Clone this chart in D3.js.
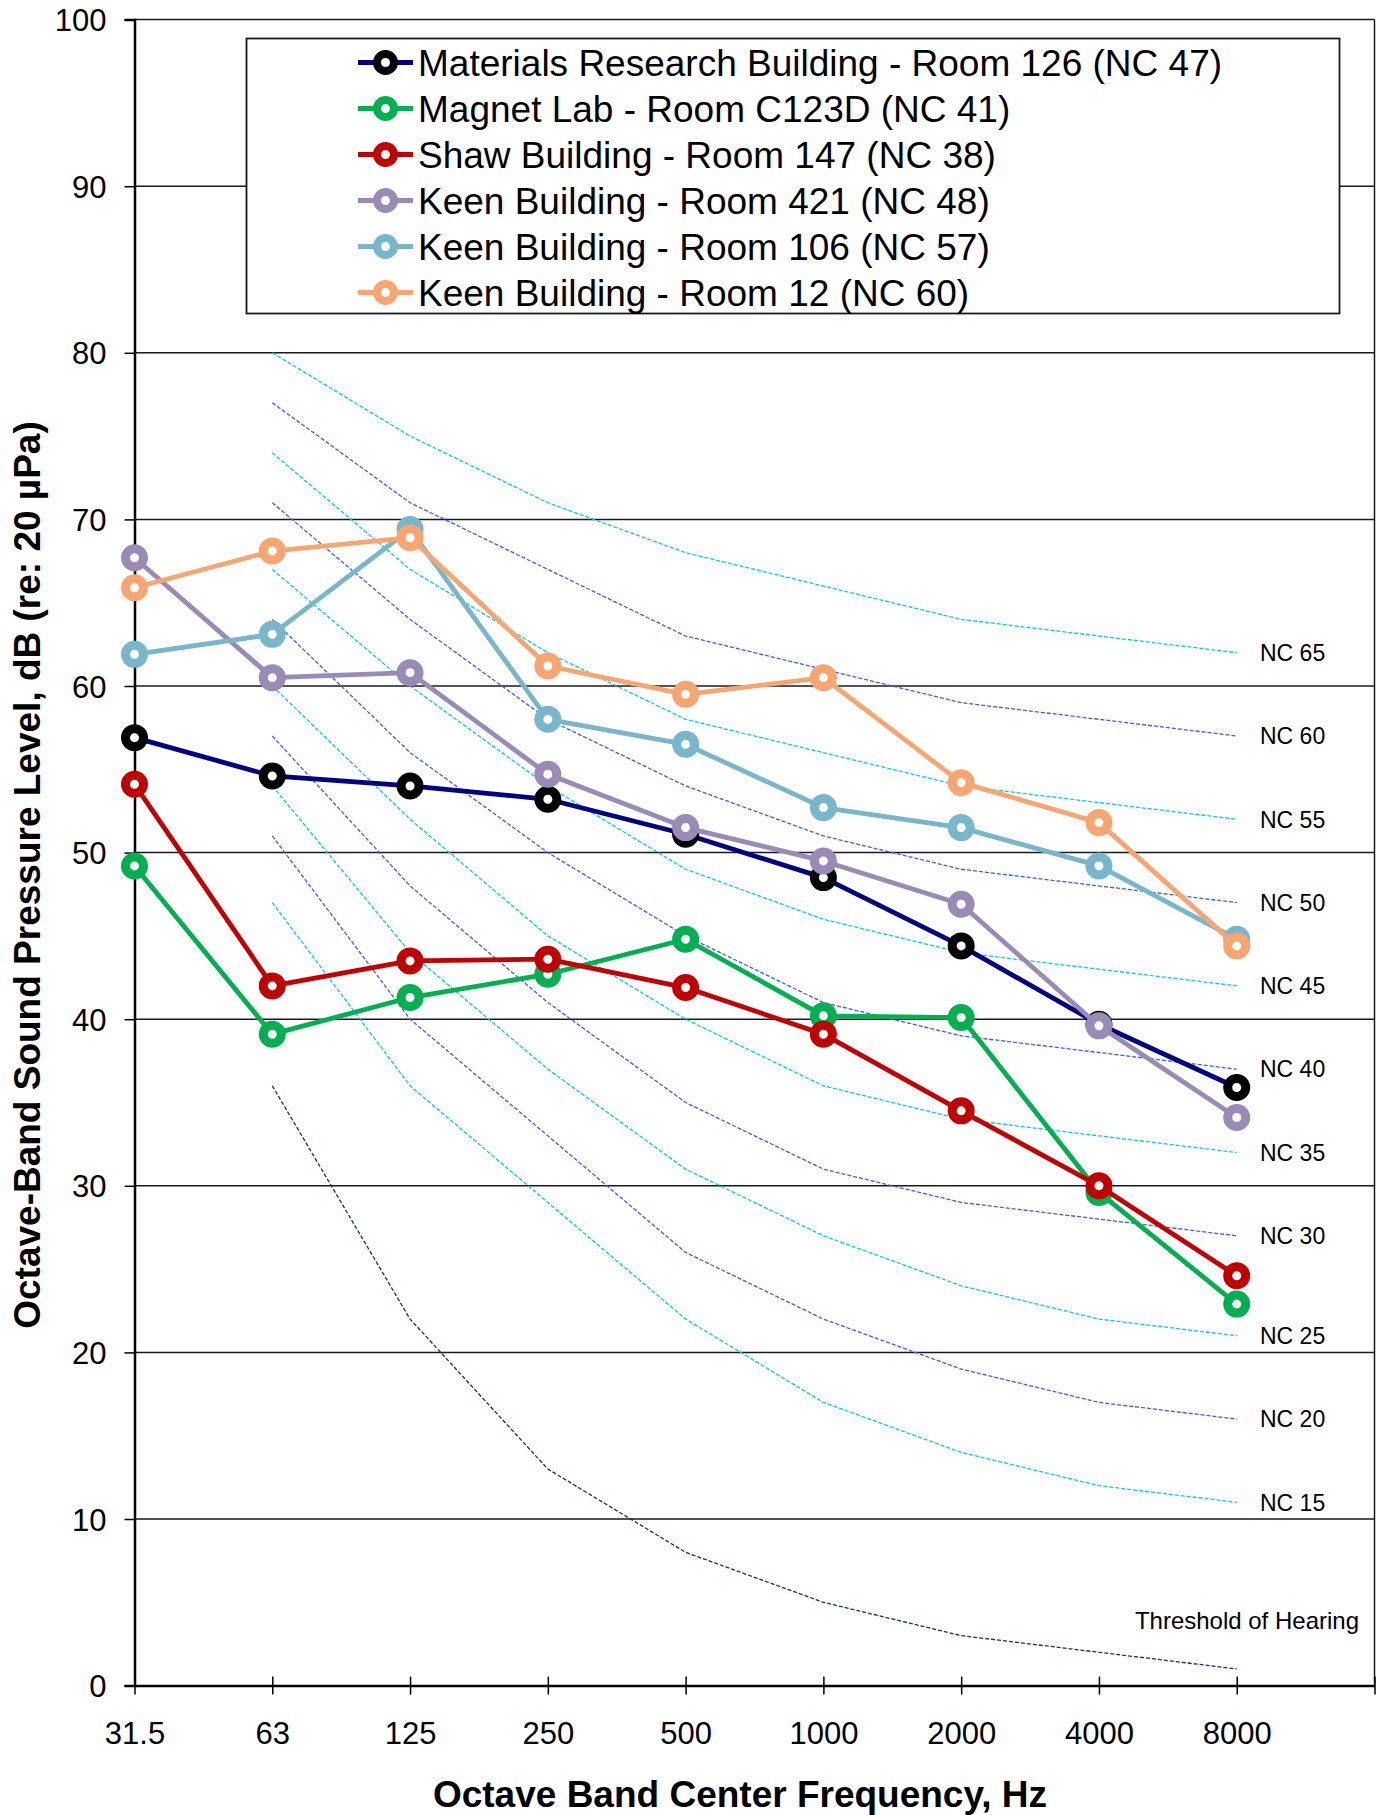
<!DOCTYPE html>
<html>
<head>
<meta charset="utf-8">
<script src="https://cdn.jsdelivr.net/npm/d3@7"></script>
<style>
  html, body { margin: 0; padding: 0; background: #fff; }
  svg { display: block; font-family: "Liberation Sans", Arial, Helvetica, sans-serif; }
</style>
</head>
<body>
<svg id="chart" width="1380" height="1815"></svg>
<script>
// Octave band centre frequencies (category axis, one spare slot at the right end)
const freqLabels = ["31.5", "63", "125", "250", "500", "1000", "2000", "4000", "8000"];
const yTicks = [0, 10, 20, 30, 40, 50, 60, 70, 80, 90, 100];

// Measured room spectra, dB per octave band
const seriesNames = [
  "Materials Research Building - Room 126 (NC 47)",
  "Magnet Lab - Room C123D (NC 41)",
  "Shaw Building - Room 147 (NC 38)",
  "Keen Building - Room 421 (NC 48)",
  "Keen Building - Room 106 (NC 57)",
  "Keen Building - Room 12 (NC 60)"
];
const materialsRoom126 = [56.9, 54.6, 54.0, 53.2, 51.1, 48.5, 44.4, 39.7, 35.9];
const magnetLabC123D   = [49.2, 39.1, 41.3, 42.7, 44.8, 40.2, 40.1, 29.6, 22.9];
const shawRoom147      = [54.1, 42.0, 43.5, 43.6, 41.9, 39.1, 34.5, 30.0, 24.6];
const keenRoom421      = [67.7, 60.5, 60.8, 54.7, 51.5, 49.5, 46.9, 39.6, 34.1];
const keenRoom106      = [61.9, 63.1, 69.4, 58.0, 56.5, 52.7, 51.5, 49.2, 44.8];
const keenRoom12       = [65.9, 68.1, 68.9, 61.2, 59.5, 60.5, 54.2, 51.8, 44.4];

// Noise criterion curves, 63 Hz .. 8000 Hz
const ncNames = ["NC 65", "NC 60", "NC 55", "NC 50", "NC 45", "NC 40", "NC 35", "NC 30", "NC 25", "NC 20", "NC 15"];
const nc65 = [80, 75, 71, 68, 66, 64, 63, 62];
const nc60 = [77, 71, 67, 63, 61, 59, 58, 57];
const nc55 = [74, 67, 62, 58, 56, 54, 53, 52];
const nc50 = [71, 64, 58, 54, 51, 49, 48, 47];
const nc45 = [67, 60, 54, 49, 46, 44, 43, 42];
const nc40 = [64, 56, 50, 45, 41, 39, 38, 37];
const nc35 = [60, 52, 45, 40, 36, 34, 33, 32];
const nc30 = [57, 48, 41, 35, 31, 29, 28, 27];
const nc25 = [54, 44, 37, 31, 27, 24, 22, 21];
const nc20 = [51, 40, 33, 26, 22, 19, 17, 16];
const nc15 = [47, 36, 29, 22, 17, 14, 12, 11];
const thresholdOfHearing = [36, 22, 13, 8, 5, 3, 2, 1];

const seriesValues = [materialsRoom126, magnetLabC123D, shawRoom147, keenRoom421, keenRoom106, keenRoom12];
const ncValues = [nc65, nc60, nc55, nc50, nc45, nc40, nc35, nc30, nc25, nc20, nc15];

// Styling
const lineColors   = ["#000080", "#00b050", "#c00000", "#9a8ab6", "#78b6cb", "#f7a672"];
const markerColors = ["#000000", "#00b050", "#c00000", "#9a8ab6", "#78b6cb", "#f7a672"];
const ncColors = ["#00c8ff", "#3a5cff"];
const thresholdColor = "#16306c";

const svg = d3.select("#chart");
const plot = { left: 134.5, right: 1374.5, top: 19.6, bottom: 1685.6 };

const x = d3.scaleLinear().domain([0, freqLabels.length]).range([plot.left, plot.right]);
const y = d3.scaleLinear().domain([0, 100]).range([plot.bottom, plot.top]);

// Horizontal gridlines
svg.append("g")
  .selectAll("line")
  .data(yTicks.filter(v => v > 0))
  .join("line")
  .attr("x1", plot.left).attr("x2", plot.right)
  .attr("y1", d => y(d)).attr("y2", d => y(d))
  .attr("stroke", "#1a1a1a").attr("stroke-width", 1.5);

// Right-hand plot border
svg.append("line")
  .attr("x1", plot.right).attr("x2", plot.right)
  .attr("y1", plot.top).attr("y2", plot.bottom)
  .attr("stroke", "#1a1a1a").attr("stroke-width", 1.5);

// Y axis
const yAxis = d3.axisLeft(y).tickValues(yTicks).tickSize(10).tickPadding(4).tickFormat(d3.format("d"));
const gy = svg.append("g").attr("transform", `translate(${plot.left},0)`).call(yAxis);
gy.select(".domain").attr("stroke", "#000").attr("stroke-width", 2.5);
gy.selectAll(".tick line").attr("stroke", "#000").attr("stroke-width", 1.5);
gy.selectAll(".tick text").attr("font-size", 31).attr("fill", "#000").attr("x", -28).attr("dy", "0.36em")
  .attr("font-family", "'Liberation Sans', Arial, sans-serif");

// X axis (ticks cross the axis line)
const xAxis = d3.axisBottom(x).tickValues(d3.range(freqLabels.length + 1))
  .tickSize(0).tickFormat(i => freqLabels[i] || "");
const gx = svg.append("g").attr("transform", `translate(0,${plot.bottom})`).call(xAxis);
gx.select(".domain").attr("stroke", "#000").attr("stroke-width", 2.5);
gx.selectAll(".tick line").attr("y1", -9).attr("y2", 9).attr("stroke", "#000").attr("stroke-width", 1.5);
gx.selectAll(".tick text").attr("font-size", 31).attr("fill", "#000").attr("y", 58).attr("dy", 0)
  .attr("font-family", "'Liberation Sans', Arial, sans-serif");

// NC curves and threshold of hearing (63 Hz onwards)
const ncLine = d3.line().x((d, i) => x(i + 1)).y(d => y(d));
const gNC = svg.append("g");
ncValues.forEach((vals, k) => {
  gNC.append("path")
    .attr("d", ncLine(vals))
    .attr("fill", "none")
    .attr("stroke", ncColors[k % 2])
    .attr("stroke-width", 1.3)
    .attr("stroke-dasharray", "4,2");
  gNC.append("text")
    .attr("x", 1260)
    .attr("y", y(vals[vals.length - 1]))
    .attr("dy", "0.36em")
    .attr("font-size", 23)
    .attr("fill", "#000")
    .text(ncNames[k]);
});
gNC.append("path")
  .attr("d", ncLine(thresholdOfHearing))
  .attr("fill", "none")
  .attr("stroke", thresholdColor)
  .attr("stroke-width", 1.3)
  .attr("stroke-dasharray", "4,2");
gNC.append("text")
  .attr("x", 1359)
  .attr("y", y(thresholdOfHearing[thresholdOfHearing.length - 1]) - 49)
  .attr("dy", "0.36em")
  .attr("text-anchor", "end")
  .attr("font-size", 24)
  .attr("fill", "#000")
  .text("Threshold  of  Hearing");

// Measured series
const seriesLine = d3.line().x((d, i) => x(i)).y(d => y(d));
const gS = svg.append("g");
seriesValues.forEach((vals, k) => {
  const g = gS.append("g");
  g.append("path")
    .attr("d", seriesLine(vals))
    .attr("fill", "none")
    .attr("stroke", lineColors[k])
    .attr("stroke-width", 4.8)
    .attr("stroke-linejoin", "round");
  g.selectAll("circle")
    .data(vals)
    .join("circle")
    .attr("cx", (d, i) => x(i))
    .attr("cy", d => y(d))
    .attr("r", 9)
    .attr("fill", "#fff")
    .attr("stroke", markerColors[k])
    .attr("stroke-width", 9);
});

// Legend
const legend = svg.append("g");
legend.append("rect")
  .attr("x", 246.5).attr("y", 38.5)
  .attr("width", 1093).attr("height", 275)
  .attr("fill", "#fff").attr("stroke", "#1a1a1a").attr("stroke-width", 1.8);
seriesNames.forEach((name, k) => {
  const cy = 62.5 + k * 46;
  legend.append("line")
    .attr("x1", 358).attr("x2", 413)
    .attr("y1", cy).attr("y2", cy)
    .attr("stroke", lineColors[k]).attr("stroke-width", 4.8);
  legend.append("circle")
    .attr("cx", 385.5).attr("cy", cy).attr("r", 8.5)
    .attr("fill", "#fff").attr("stroke", markerColors[k]).attr("stroke-width", 8);
  legend.append("text")
    .attr("x", 418).attr("y", cy)
    .attr("dy", "0.36em")
    .attr("font-size", 37)
    .attr("fill", "#000")
    .text(name);
});

// Axis titles
svg.append("text")
  .attr("x", 740).attr("y", 1807)
  .attr("text-anchor", "middle")
  .attr("font-size", 37).attr("font-weight", "bold")
  .attr("fill", "#000")
  .text("Octave Band Center Frequency,  Hz");

svg.append("text")
  .attr("transform", "translate(40,875) rotate(-90)")
  .attr("text-anchor", "middle")
  .attr("font-size", 37).attr("font-weight", "bold")
  .attr("fill", "#000")
  .text("Octave-Band Sound  Pressure  Level, dB (re: 20 µPa)");
</script>
</body>
</html>
